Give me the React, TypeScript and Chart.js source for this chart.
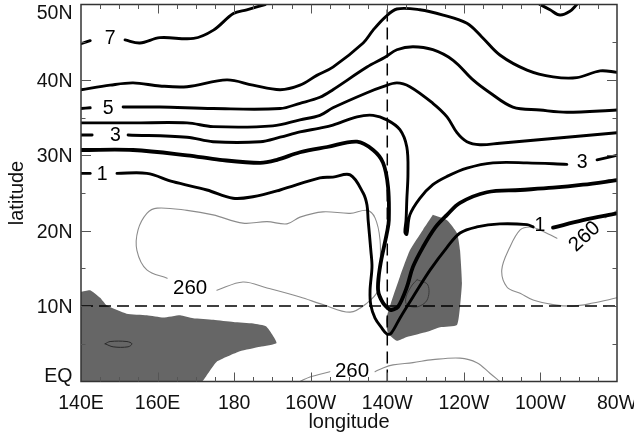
import React, { useEffect, useRef } from "react";
import { Chart, registerables } from "chart.js";

Chart.register(...registerables);

type Pt = [number, number]; // [longitude in degrees east, latitude in degrees north]

// Axis ranges and tick labels
const LON_MIN = 140;
const LON_MAX = 280;
const LAT_MIN = 0;
const LAT_MAX = 50;
const LON_TICKS = [140, 160, 180, 200, 220, 240, 260, 280];
const LON_LABELS = ["140E", "160E", "180", "160W", "140W", "120W", "100W", "80W"];
const LAT_TICKS = [0, 10, 20, 30, 40, 50];
const LAT_LABELS = ["EQ", "10N", "20N", "30N", "40N", "50N"];

// Reference lines
const REF_LON = 220; // 140W
const REF_LAT = 10; // 10N

// Thick black contours (split where an inline label sits)
const c7West: Pt[] = [[140.0, 44.8], [142.4, 45.2]];
const c7East: Pt[] = [[151.5, 45.3], [155.4, 44.9], [160.6, 45.6], [169.4, 45.5], [174.6, 46.6], [179.8, 48.8], [183.3, 49.3], [188.1, 50.0]];
const c7North: Pt[] = [[259.9, 50.0], [262.5, 49.3], [265.1, 48.6], [267.7, 49.1], [269.5, 50.0]];

const c6: Pt[] = [[140.0, 38.7], [147.6, 39.3], [153.6, 39.6], [160.6, 39.2], [167.7, 39.1], [178.1, 40.0], [184.9, 39.3], [192.0, 38.7], [197.2, 39.3], [201.6, 40.6], [205.8, 41.7], [213.7, 44.9], [216.3, 46.6], [219.4, 48.3], [222.5, 49.4], [228.5, 49.3], [234.6, 48.6], [240.8, 47.5], [244.7, 45.7], [249.4, 43.3], [256.5, 41.3], [263.3, 40.4], [269.5, 40.3], [275.6, 41.2], [280.0, 41.0]];

const c5West: Pt[] = [[140.0, 36.2], [142.4, 36.3]];
const c5East: Pt[] = [[151.0, 36.4], [160.6, 36.4], [174.5, 36.2], [192.0, 36.2], [197.2, 36.9], [202.4, 37.7], [205.8, 38.7], [214.7, 41.7], [219.4, 43.0], [222.5, 44.0], [226.7, 44.4], [231.9, 44.0], [237.2, 42.6], [242.4, 40.0], [246.8, 38.3], [252.8, 36.4], [259.9, 36.0], [266.9, 35.7], [280.0, 36.0]];

const c4: Pt[] = [[140.0, 34.3], [153.6, 34.3], [167.7, 34.3], [174.5, 33.8], [190.1, 33.9], [197.2, 34.7], [202.4, 35.3], [205.8, 36.3], [214.7, 38.3], [218.9, 39.1], [222.5, 39.6], [225.9, 39.1], [231.9, 36.9], [235.6, 35.1], [238.2, 33.0], [240.8, 31.8], [244.2, 31.4], [249.4, 31.6], [258.1, 32.0], [266.9, 32.4], [280.0, 33.0]];

const c3West: Pt[] = [[140.0, 32.7], [142.9, 32.7]];
const c3Mid: Pt[] = [[152.3, 32.7], [167.7, 32.4], [174.5, 31.8], [186.8, 31.8], [192.0, 32.4], [197.2, 33.1], [202.4, 33.6], [205.8, 34.0], [212.1, 35.1], [216.3, 35.3], [219.9, 34.7], [223.3, 33.4], [225.1, 31.1], [225.4, 27.6], [225.1, 24.1], [224.9, 21.4], [224.6, 19.8], [225.1, 19.5], [225.9, 22.1], [228.5, 24.3], [231.9, 26.1], [235.6, 27.2], [240.8, 28.3], [247.6, 29.0], [256.5, 29.0], [266.9, 28.8]];
const c3East: Pt[] = [[274.8, 29.4], [280.0, 30.0]];

const c2: Pt[] = [[140.0, 30.7], [153.6, 30.7], [167.7, 30.0], [176.3, 29.4], [186.8, 29.0], [191.2, 29.4], [197.2, 30.4], [204.3, 31.1], [212.1, 31.8], [216.3, 30.7], [218.9, 29.0], [220.2, 25.8], [220.4, 21.4], [219.9, 19.7], [218.1, 15.2], [217.6, 12.1], [218.9, 10.4], [220.7, 9.5], [221.2, 9.5], [222.8, 9.9], [225.1, 12.5], [226.7, 15.2], [229.3, 17.8], [232.5, 20.4], [235.6, 22.1], [239.0, 23.7], [246.0, 25.1], [254.7, 25.4], [263.3, 25.7], [271.1, 26.1], [280.0, 26.7]];

const c1West: Pt[] = [[140.0, 27.6], [142.4, 27.6]];
const c1Mid: Pt[] = [[149.4, 27.6], [157.2, 27.6], [164.0, 26.5], [172.9, 25.4], [179.7, 24.3], [184.9, 24.5], [192.0, 25.4], [202.4, 27.0], [205.8, 27.1], [210.3, 27.4], [213.7, 25.0], [214.7, 23.4], [215.0, 21.4], [215.7, 17.4], [216.0, 15.2], [215.5, 12.1], [215.7, 10.1], [216.8, 8.4], [218.4, 7.2], [219.9, 6.3], [221.0, 6.4], [223.3, 8.4], [226.7, 11.2], [231.2, 14.8], [235.6, 17.8], [239.0, 19.7], [243.4, 20.5], [249.4, 20.9], [256.5, 20.8], [258.1, 20.5]];
const c1East: Pt[] = [[263.3, 20.4], [271.1, 21.4], [280.0, 22.3]];

// Thin grey 260 contours
const g260West: Pt[] = [[162.5, 13.7], [157.2, 14.8], [154.6, 17.4], [154.9, 20.1], [157.2, 22.3], [159.9, 23.0], [167.7, 22.7], [174.5, 22.1], [182.3, 21.0], [188.6, 21.2], [193.8, 20.9], [197.2, 21.8], [203.2, 22.5], [210.3, 22.3], [214.7, 22.7], [216.8, 21.7], [218.1, 18.8], [218.1, 14.8], [217.6, 12.1], [214.7, 10.4], [210.3, 9.2], [203.2, 10.2], [197.2, 11.2], [188.6, 12.4], [182.3, 13.2], [175.5, 12.1]];
const g260EastTip: Pt[] = [[280.0, 22.7], [276.9, 21.7]];
const g260East: Pt[] = [[264.3, 19.0], [259.9, 20.1], [257.3, 20.5], [254.7, 20.1], [252.0, 17.8], [249.9, 14.8], [251.3, 12.5], [254.7, 11.7], [258.1, 10.8], [263.3, 10.2], [268.5, 10.0], [273.7, 10.4], [280.0, 11.1]];
const g260SouthA: Pt[] = [[197.2, 0.0], [199.8, 0.6], [205.0, 1.3]];
const g260SouthB: Pt[] = [[216.8, 1.3], [218.9, 1.8], [221.5, 2.2], [226.7, 2.5], [231.9, 2.9], [239.0, 3.1], [243.4, 2.5], [246.8, 1.1], [249.4, 0.0]];

// Small closed contours inside the shaded areas
const loopTrough: Pt[] = [[227.8, 13.5], [230.6, 12.8], [230.4, 10.8], [227.8, 9.9], [225.1, 10.2], [224.9, 11.2], [226.5, 12.8], [227.8, 13.5]];
const loopWarmPool: Pt[] = [[146.3, 5.0], [147.6, 5.3], [152.0, 5.3], [153.3, 5.0], [152.3, 4.6], [148.4, 4.6], [146.3, 5.0]];

// Shaded regions
const shadeWest: Pt[] = [[140.0, 11.9], [142.4, 12.1], [145.0, 11.1], [146.7, 10.1], [151.9, 9.0], [157.2, 8.8], [161.5, 8.5], [165.9, 8.8], [169.3, 8.4], [174.6, 8.2], [179.8, 7.9], [185.0, 7.7], [188.4, 7.3], [191.1, 5.1], [186.8, 4.6], [181.5, 4.0], [175.4, 2.6], [173.2, 1.1], [171.5, 0.0], [140.0, 0.0], [140.0, 11.9]];
const shadeTrough: Pt[] = [[231.9, 22.1], [235.6, 21.4], [238.2, 19.7], [239.0, 17.4], [239.5, 13.1], [239.0, 9.9], [238.2, 7.5], [233.8, 7.2], [230.4, 6.6], [225.1, 5.9], [222.5, 5.4], [220.2, 6.4], [219.7, 8.2], [221.2, 10.8], [223.3, 13.9], [225.9, 17.4], [229.3, 20.1], [231.9, 22.1]];

// Inline contour labels: [lon, lat, text, rotation in degrees]
const CONTOUR_LABELS: [number, number, string, number][] = [
  [147.6, 45.6, "7", 0],
  [147.1, 36.3, "5", 0],
  [149.0, 32.7, "3", 0],
  [145.5, 27.6, "1", 0],
  [270.9, 29.1, "3", 0],
  [259.9, 20.8, "1", 0],
  [168.5, 12.5, "260", 0],
  [210.8, 1.5, "260", 0],
  [271.4, 19.3, "260", -43],
];

const FONT = '"Liberation Sans", Arial, Helvetica, sans-serif';
const SHADE = "#666666";
const GREY = "#8c8c8c";

function series(points: Pt[], style: Record<string, unknown>) {
  return {
    data: points.map(([x, y]) => ({ x, y })),
    pointRadius: 0,
    pointHoverRadius: 0,
    fill: false,
    tension: 0.35,
    borderCapStyle: "round",
    borderJoinStyle: "round",
    ...style,
  };
}

const black = (pts: Pt[], w = 2.9) => series(pts, { borderColor: "#000", borderWidth: w, order: 2 });
const grey = (pts: Pt[]) => series(pts, { borderColor: GREY, borderWidth: 1.1, order: 4 });
const shade = (pts: Pt[]) =>
  series(pts, { borderWidth: 0, borderColor: SHADE, backgroundColor: SHADE, fill: "shape", tension: 0.15, order: 6 });

const frameAndLabels = {
  id: "frameAndLabels",
  afterDraw(chart: any) {
    const { ctx, chartArea: a, scales } = chart;
    const xs = scales.x;
    const ys = scales.y;
    ctx.save();

    // inline contour labels
    ctx.fillStyle = "#000";
    ctx.textAlign = "center";
    ctx.textBaseline = "middle";
    for (const [lon, lat, text, rot] of CONTOUR_LABELS) {
      const px = xs.getPixelForValue(lon);
      const py = ys.getPixelForValue(lat);
      ctx.save();
      ctx.translate(px, py);
      ctx.rotate((rot * Math.PI) / 180);
      ctx.font = `${text.length > 1 ? 20.5 : 19.5}px ${FONT}`;
      ctx.fillText(text, 0, 1);
      ctx.restore();
    }

    // frame
    ctx.strokeStyle = "#333";
    ctx.lineWidth = 1.5;
    ctx.strokeRect(a.left, a.top, a.right - a.left, a.bottom - a.top);

    // inward tick marks
    ctx.lineWidth = 1;
    ctx.strokeStyle = "#555";
    ctx.beginPath();
    for (let lon = LON_MIN + 5; lon < LON_MAX; lon += 5) {
      const px = Math.round(xs.getPixelForValue(lon)) + 0.5;
      const len = lon % 20 === 0 ? 9 : 4.5;
      ctx.moveTo(px, a.bottom);
      ctx.lineTo(px, a.bottom - len);
      ctx.moveTo(px, a.top);
      ctx.lineTo(px, a.top + len);
    }
    for (let lat = LAT_MIN + 5; lat < LAT_MAX; lat += 5) {
      const py = Math.round(ys.getPixelForValue(lat)) + 0.5;
      const len = lat % 10 === 0 ? 10 : 4.5;
      ctx.moveTo(a.left, py);
      ctx.lineTo(a.left + len, py);
      ctx.moveTo(a.right, py);
      ctx.lineTo(a.right - len, py);
    }
    ctx.stroke();

    // tick labels
    ctx.fillStyle = "#111";
    ctx.font = `19.5px ${FONT}`;
    ctx.textBaseline = "alphabetic";
    ctx.textAlign = "center";
    LON_TICKS.forEach((lon, i) => {
      ctx.fillText(LON_LABELS[i], xs.getPixelForValue(lon), a.bottom + 27);
    });
    ctx.textAlign = "right";
    LAT_TICKS.forEach((lat, i) => {
      const py = ys.getPixelForValue(lat);
      const base = Math.min(Math.max(py + 7, a.top + 14), a.bottom + 0.5);
      ctx.fillText(LAT_LABELS[i], a.left - 8.5, base);
    });

    // axis titles
    ctx.font = `20px ${FONT}`;
    ctx.textAlign = "center";
    ctx.fillText("longitude", (a.left + a.right) / 2, a.bottom + 46.5);
    ctx.save();
    ctx.translate(23.3, (a.top + a.bottom) / 2);
    ctx.rotate(-Math.PI / 2);
    ctx.fillText("latitude", 0, 0);
    ctx.restore();

    ctx.restore();
  },
};

export default function App() {
  const ref = useRef<HTMLCanvasElement>(null);

  useEffect(() => {
    const canvas = ref.current;
    if (!canvas) return;

    const datasets: any[] = [
      shade(shadeWest),
      shade(shadeTrough),
      grey(g260West),
      grey(g260EastTip),
      grey(g260East),
      grey(g260SouthA),
      grey(g260SouthB),
      series(loopTrough, { borderColor: "#3a3a3a", borderWidth: 1, order: 3 }),
      series(loopWarmPool, { borderColor: "#2a2a2a", borderWidth: 1, order: 3 }),
      black(c7West),
      black(c7East),
      black(c7North),
      black(c6),
      black(c5West),
      black(c5East),
      black(c4),
      black(c3West),
      black(c3Mid),
      black(c3East),
      black(c2, 3.8),
      black(c1West),
      black(c1Mid),
      black(c1East, 3.8),
      series([[REF_LON, LAT_MIN], [REF_LON, LAT_MAX]], {
        borderColor: "#000", borderWidth: 1.5, borderDash: [12, 6], tension: 0, borderCapStyle: "butt", order: 1,
      }),
      series([[LON_MIN, REF_LAT], [LON_MAX, REF_LAT]], {
        borderColor: "#000", borderWidth: 1.5, borderDash: [12, 6], tension: 0, borderCapStyle: "butt", order: 1,
      }),
    ];

    const chart = new Chart(canvas, {
      type: "line",
      data: { datasets },
      options: {
        animation: false,
        responsive: false,
        maintainAspectRatio: false,
        devicePixelRatio: 1,
        events: [],
        layout: { padding: { left: 81, right: 17, top: 4.5, bottom: 59.5 } },
        scales: {
          x: { type: "linear", min: LON_MIN, max: LON_MAX, display: false },
          y: { type: "linear", min: LAT_MIN, max: LAT_MAX, display: false },
        },
        plugins: { legend: { display: false }, tooltip: { enabled: false } },
      },
      plugins: [frameAndLabels],
    } as any);

    return () => chart.destroy();
  }, []);

  return (
    <div style={{ position: "absolute", left: 0, top: 0, width: 634, height: 441, background: "#fff" }}>
      <canvas ref={ref} width={634} height={441} style={{ display: "block", width: 634, height: 441 }} />
    </div>
  );
}
